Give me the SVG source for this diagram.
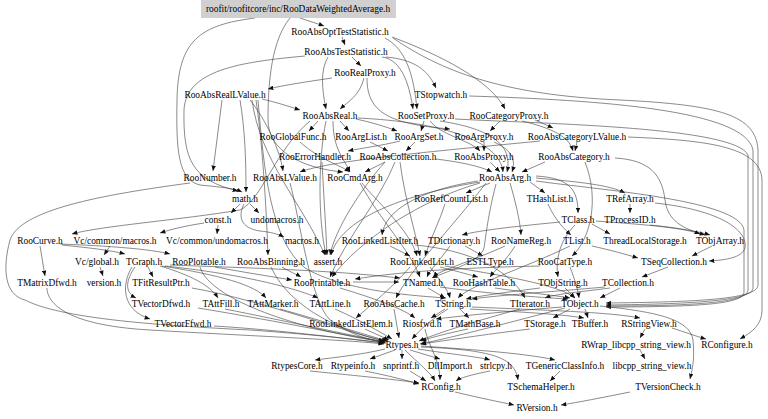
<svg xmlns="http://www.w3.org/2000/svg" width="768" height="419" viewBox="0 0 768 419">
<style>
text{font-family:"Liberation Serif","Times New Roman",serif;font-size:9.4px;fill:#000;text-anchor:middle}
.e{fill:none;stroke:#3c3c3c;stroke-width:0.6;marker-end:url(#ah)}
</style>
<defs>
<marker id="ah" viewBox="0 0 6 5" refX="6" refY="2.5" markerWidth="5.5" markerHeight="4.5" markerUnits="userSpaceOnUse" orient="auto"><path d="M0,0 L6,2.5 L0,5 z" fill="#111"/></marker>
</defs>
<rect width="768" height="419" fill="#fff"/>
<g id="edges">
<path class="e" d="M300,18 C308,21 316,23 324,26"/>
<path class="e" d="M290,18 C272,40 268,80 268,120 C268,150 300,168 343,172"/>
<path class="e" d="M255,18 C200,25 178,40 177,100 C176,150 178,180 200,185 C220,187 233,188 242,192"/>
<path class="e" d="M342,37 L345,45"/>
<path class="e" d="M385,38 C408,50 414,80 417,109"/>
<path class="e" d="M392,37 C440,55 490,80 505,109"/>
<path class="e" d="M393,38 C440,70 500,95 620,100 C720,105 756,115 758,150 L758,285 C758,299 700,302 606,303"/>
<path class="e" d="M352,57 L361,66"/>
<path class="e" d="M382,57 C404,60 410,90 413,109"/>
<path class="e" d="M386,57 C420,60 430,75 436,88"/>
<path class="e" d="M328,57 C320,70 322,90 326,109"/>
<path class="e" d="M305,56 C240,62 186,70 184,110 C183,160 192,180 238,191"/>
<path class="e" d="M332,78 C305,82 285,85 268,89"/>
<path class="e" d="M364,78 C360,95 348,102 340,109"/>
<path class="e" d="M367,78 C367,110 385,124 450,129"/>
<path class="e" d="M262,99 C275,102 288,106 300,110"/>
<path class="e" d="M222,100 L213,171"/>
<path class="e" d="M250,100 C266,120 280,150 283,171"/>
<path class="e" d="M256,100 C262,140 266,200 268,255"/>
<path class="e" d="M240,100 C245,130 246,160 246,192"/>
<path class="e" d="M252,100 C260,160 300,200 325,255"/>
<path class="e" d="M258,100 C264,170 270,240 305,268 C345,292 420,296 446,298"/>
<path class="e" d="M469,96 C600,100 745,110 753,150 L753,288 C753,300 700,304 606,305"/>
<path class="e" d="M318,121 L309,131"/>
<path class="e" d="M340,121 L349,131"/>
<path class="e" d="M356,119 C370,122 384,126 397,131"/>
<path class="e" d="M333,121 C333,150 345,160 350,172"/>
<path class="e" d="M358,118 C440,122 500,140 503,172"/>
<path class="e" d="M310,121 C275,150 262,200 240,210 C180,220 100,226 72,234"/>
<path class="e" d="M326,121 C318,160 318,220 326,255"/>
<path class="e" d="M430,121 C440,135 470,140 480,151"/>
<path class="e" d="M440,121 C500,130 512,150 507,172"/>
<path class="e" d="M424,121 L421,131"/>
<path class="e" d="M455,119 C550,124 735,127 748,155 L748,290 C748,302 700,306 606,306"/>
<path class="e" d="M522,121 C560,130 570,140 573,151"/>
<path class="e" d="M500,121 L490,131"/>
<path class="e" d="M535,120 L553,128"/>
<path class="e" d="M300,142 C320,160 340,165 350,172"/>
<path class="e" d="M370,142 L388,151"/>
<path class="e" d="M415,142 L406,151"/>
<path class="e" d="M400,141 C380,146 362,148 348,151"/>
<path class="e" d="M484,142 L484,151"/>
<path class="e" d="M494,142 C512,150 516,160 512,172"/>
<path class="e" d="M577,142 L575,151"/>
<path class="e" d="M540,141 C450,150 330,160 300,172"/>
<path class="e" d="M628,137 C700,140 761,145 762,180 L762,310 C762,325 752,332 740,339"/>
<path class="e" d="M322,162 C324,200 326,230 327,255"/>
<path class="e" d="M436,159 C460,162 480,166 492,172"/>
<path class="e" d="M395,162 C380,200 345,240 330,277"/>
<path class="e" d="M400,162 C405,200 415,230 420,256"/>
<path class="e" d="M385,162 L365,172"/>
<path class="e" d="M385,162 C360,190 335,230 330,255"/>
<path class="e" d="M490,162 L500,172"/>
<path class="e" d="M545,162 L522,172"/>
<path class="e" d="M585,162 C600,200 590,240 572,256"/>
<path class="e" d="M615,158 C650,160 662,175 665,200 C668,225 690,230 705,235"/>
<path class="e" d="M190,183 C100,195 20,210 10,240 C2,270 5,295 25,300 C60,318 150,325 250,330 C320,335 360,340 384,343"/>
<path class="e" d="M290,183 C300,220 310,300 330,320 C350,335 370,340 386,343"/>
<path class="e" d="M360,183 C380,220 410,250 420,277"/>
<path class="e" d="M362,183 C375,200 410,230 417,256"/>
<path class="e" d="M496,184 C488,215 486,235 484,248 C480,262 450,270 432,278"/>
<path class="e" d="M530,182 L545,193"/>
<path class="e" d="M536,178 C580,182 610,185 625,193"/>
<path class="e" d="M480,183 C420,200 360,240 332,277"/>
<path class="e" d="M490,183 L466,193"/>
<path class="e" d="M486,183 C450,230 410,270 396,298"/>
<path class="e" d="M478,181 C420,190 385,210 382,235"/>
<path class="e" d="M510,183 C515,200 520,220 521,235"/>
<path class="e" d="M536,176 C570,178 578,190 578,213"/>
<path class="e" d="M480,182 C400,195 340,220 331,255"/>
<path class="e" d="M536,181 C600,190 740,200 744,230 L744,292 C744,304 700,307 606,307"/>
<path class="e" d="M445,204 C440,220 430,240 425,256"/>
<path class="e" d="M548,204 C555,220 565,230 571,235"/>
<path class="e" d="M655,203 C720,210 748,230 745,248 C742,258 725,260 709,261"/>
<path class="e" d="M630,204 L630,213"/>
<path class="e" d="M650,225 C680,228 700,232 710,235"/>
<path class="e" d="M560,222 C520,226 480,230 462,235"/>
<path class="e" d="M592,224 L610,234"/>
<path class="e" d="M596,221 C650,225 685,228 700,234"/>
<path class="e" d="M575,225 C560,240 555,260 558,277"/>
<path class="e" d="M240,204 L231,213"/>
<path class="e" d="M250,204 L259,213"/>
<path class="e" d="M244,204 C238,216 240,228 260,231 C270,232 278,234 284,237"/>
<path class="e" d="M204,223 C185,226 172,229 160,233"/>
<path class="e" d="M218,225 L217,234"/>
<path class="e" d="M110,246 L104,255"/>
<path class="e" d="M100,267 L103,276"/>
<path class="e" d="M62,245 C90,248 110,250 125,254"/>
<path class="e" d="M60,244 C110,246 150,249 170,254"/>
<path class="e" d="M40,246 L45,276"/>
<path class="e" d="M135,267 C126,280 124,292 136,298"/>
<path class="e" d="M132,267 C121,285 122,310 150,319"/>
<path class="e" d="M148,267 L153,277"/>
<path class="e" d="M170,265 C250,268 330,270 400,278"/>
<path class="e" d="M165,266 C250,275 300,290 318,298"/>
<path class="e" d="M160,266 C190,275 210,285 218,298"/>
<path class="e" d="M162,266 C220,275 255,285 266,298"/>
<path class="e" d="M200,267 C210,300 300,330 385,342"/>
<path class="e" d="M215,267 C260,275 280,278 292,280"/>
<path class="e" d="M271,267 C290,310 350,335 387,341"/>
<path class="e" d="M282,267 C290,272 296,274 301,277"/>
<path class="e" d="M445,266 C500,275 560,285 575,298"/>
<path class="e" d="M410,267 C390,290 365,310 356,318"/>
<path class="e" d="M440,267 C460,272 470,275 478,277"/>
<path class="e" d="M430,267 C440,280 448,290 450,298"/>
<path class="e" d="M415,245 C470,250 510,270 525,298"/>
<path class="e" d="M390,246 L410,256"/>
<path class="e" d="M450,246 C440,260 430,270 427,277"/>
<path class="e" d="M465,246 L483,256"/>
<path class="e" d="M505,246 C470,262 440,270 433,277"/>
<path class="e" d="M515,246 C505,262 495,270 490,277"/>
<path class="e" d="M592,246 C610,250 625,254 638,258"/>
<path class="e" d="M570,246 C520,270 470,285 458,298"/>
<path class="e" d="M668,267 L642,277"/>
<path class="e" d="M712,246 L692,256"/>
<path class="e" d="M570,267 C575,280 578,290 579,298"/>
<path class="e" d="M540,266 C450,268 400,272 355,279"/>
<path class="e" d="M620,288 L600,298"/>
<path class="e" d="M610,288 C580,292 555,294 545,298"/>
<path class="e" d="M605,287 C550,292 500,295 472,299"/>
<path class="e" d="M47,288 C47,300 60,325 150,330 C250,336 350,340 384,344"/>
<path class="e" d="M192,288 C260,300 340,330 384,341"/>
<path class="e" d="M198,308 C260,318 340,334 384,342"/>
<path class="e" d="M214,326 C280,330 340,338 384,343"/>
<path class="e" d="M340,288 C380,300 405,310 415,318"/>
<path class="e" d="M353,282 L399,282"/>
<path class="e" d="M440,287 C500,295 550,298 568,299"/>
<path class="e" d="M428,288 L445,298"/>
<path class="e" d="M495,288 C530,293 560,296 570,298"/>
<path class="e" d="M565,288 L575,298"/>
<path class="e" d="M540,288 C500,293 480,296 466,299"/>
<path class="e" d="M225,309 C280,320 350,335 385,342"/>
<path class="e" d="M280,309 C320,320 365,335 388,341"/>
<path class="e" d="M335,309 C360,320 380,332 392,339"/>
<path class="e" d="M394,309 L399,338"/>
<path class="e" d="M445,309 L431,318"/>
<path class="e" d="M460,309 L469,318"/>
<path class="e" d="M472,307 C540,310 610,312 640,318"/>
<path class="e" d="M448,309 C430,320 420,330 412,339"/>
<path class="e" d="M470,309 C520,312 560,314 584,318"/>
<path class="e" d="M520,309 C480,320 440,332 419,341"/>
<path class="e" d="M600,306 C660,312 690,320 693,340 C695,360 692,370 690,379"/>
<path class="e" d="M565,308 C500,325 450,338 420,344"/>
<path class="e" d="M570,309 L553,318"/>
<path class="e" d="M562,307 C500,312 460,316 436,319"/>
<path class="e" d="M585,309 L588,318"/>
<path class="e" d="M365,329 L389,340"/>
<path class="e" d="M425,329 C428,345 440,360 440,380"/>
<path class="e" d="M468,329 C440,335 430,338 421,341"/>
<path class="e" d="M530,329 C480,335 450,340 421,344"/>
<path class="e" d="M672,328 C685,332 695,336 706,339"/>
<path class="e" d="M645,329 L640,338"/>
<path class="e" d="M640,350 L645,359"/>
<path class="e" d="M385,349 C360,355 330,358 315,360"/>
<path class="e" d="M395,350 L370,359"/>
<path class="e" d="M402,350 L402,359"/>
<path class="e" d="M410,350 L440,359"/>
<path class="e" d="M418,349 C450,354 480,357 490,360"/>
<path class="e" d="M421,346 C480,350 530,354 555,360"/>
<path class="e" d="M421,347 C500,350 515,360 518,380"/>
<path class="e" d="M405,350 C420,365 430,372 435,381"/>
<path class="e" d="M310,371 C360,376 400,380 419,383"/>
<path class="e" d="M365,371 C390,376 405,380 419,384"/>
<path class="e" d="M410,371 L426,381"/>
<path class="e" d="M490,371 C470,375 460,378 456,381"/>
<path class="e" d="M560,371 L550,381"/>
<path class="e" d="M630,392 C600,398 580,402 561,405"/>
<path class="e" d="M455,392 C480,398 500,402 514,405"/>
</g>
<g id="node-RooDataWeightedAverage"><rect x="201" y="0" width="195" height="18" fill="#d0d0d0"/><text x="298" y="12">roofit/roofitcore/inc/RooDataWeightedAverage.h</text></g>
<g id="node-RooAbsOptTestStatistic"><text x="340" y="35">RooAbsOptTestStatistic.h</text></g>
<g id="node-RooAbsTestStatistic"><text x="346" y="55">RooAbsTestStatistic.h</text></g>
<g id="node-RooRealProxy"><text x="365" y="76">RooRealProxy.h</text></g>
<g id="node-RooAbsRealLValue"><text x="225" y="98">RooAbsRealLValue.h</text></g>
<g id="node-TStopwatch"><text x="441" y="98">TStopwatch.h</text></g>
<g id="node-RooAbsReal"><text x="330" y="119">RooAbsReal.h</text></g>
<g id="node-RooSetProxy"><text x="426" y="119">RooSetProxy.h</text></g>
<g id="node-RooCategoryProxy"><text x="509" y="119">RooCategoryProxy.h</text></g>
<g id="node-RooGlobalFunc"><text x="293" y="140">RooGlobalFunc.h</text></g>
<g id="node-RooArgList"><text x="361" y="140">RooArgList.h</text></g>
<g id="node-RooArgSet"><text x="419" y="140">RooArgSet.h</text></g>
<g id="node-RooArgProxy"><text x="484" y="140">RooArgProxy.h</text></g>
<g id="node-RooAbsCategoryLValue"><text x="577" y="140">RooAbsCategoryLValue.h</text></g>
<g id="node-RooErrorHandler"><text x="315" y="160">RooErrorHandler.h</text></g>
<g id="node-RooAbsCollection"><text x="398" y="160">RooAbsCollection.h</text></g>
<g id="node-RooAbsProxy"><text x="484" y="160">RooAbsProxy.h</text></g>
<g id="node-RooAbsCategory"><text x="574" y="160">RooAbsCategory.h</text></g>
<g id="node-RooNumber"><text x="210" y="181">RooNumber.h</text></g>
<g id="node-RooAbsLValue"><text x="285" y="181">RooAbsLValue.h</text></g>
<g id="node-RooCmdArg"><text x="355" y="181">RooCmdArg.h</text></g>
<g id="node-RooAbsArg"><text x="505" y="181">RooAbsArg.h</text></g>
<g id="node-math"><text x="245" y="202">math.h</text></g>
<g id="node-RooRefCountList"><text x="451" y="202">RooRefCountList.h</text></g>
<g id="node-THashList"><text x="550" y="202">THashList.h</text></g>
<g id="node-TRefArray"><text x="630" y="202">TRefArray.h</text></g>
<g id="node-const"><text x="218" y="223">const.h</text></g>
<g id="node-undomacros"><text x="277" y="223">undomacros.h</text></g>
<g id="node-TClass"><text x="578" y="223">TClass.h</text></g>
<g id="node-TProcessID"><text x="630" y="223">TProcessID.h</text></g>
<g id="node-RooCurve"><text x="40" y="244">RooCurve.h</text></g>
<g id="node-Vc-common-macros"><text x="115" y="244">Vc/common/macros.h</text></g>
<g id="node-Vc-common-undomacros"><text x="217" y="244">Vc/common/undomacros.h</text></g>
<g id="node-macros"><text x="302" y="244">macros.h</text></g>
<g id="node-RooLinkedListIter"><text x="380" y="244">RooLinkedListIter.h</text></g>
<g id="node-TDictionary"><text x="454" y="244">TDictionary.h</text></g>
<g id="node-RooNameReg"><text x="521" y="244">RooNameReg.h</text></g>
<g id="node-TList"><text x="577" y="244">TList.h</text></g>
<g id="node-ThreadLocalStorage"><text x="645" y="244">ThreadLocalStorage.h</text></g>
<g id="node-TObjArray"><text x="720" y="244">TObjArray.h</text></g>
<g id="node-Vc-global"><text x="97" y="265">Vc/global.h</text></g>
<g id="node-TGraph"><text x="144" y="265">TGraph.h</text></g>
<g id="node-RooPlotable"><text x="199" y="265">RooPlotable.h</text></g>
<g id="node-RooAbsBinning"><text x="271" y="265">RooAbsBinning.h</text></g>
<g id="node-assert"><text x="328" y="265">assert.h</text></g>
<g id="node-RooLinkedList"><text x="422" y="265">RooLinkedList.h</text></g>
<g id="node-ESTLType"><text x="490" y="265">ESTLType.h</text></g>
<g id="node-RooCatType"><text x="565" y="265">RooCatType.h</text></g>
<g id="node-TSeqCollection"><text x="674" y="265">TSeqCollection.h</text></g>
<g id="node-TMatrixDfwd"><text x="47" y="286">TMatrixDfwd.h</text></g>
<g id="node-version"><text x="104" y="286">version.h</text></g>
<g id="node-TFitResultPtr"><text x="161" y="286">TFitResultPtr.h</text></g>
<g id="node-RooPrintable"><text x="322" y="286">RooPrintable.h</text></g>
<g id="node-TNamed"><text x="423" y="286">TNamed.h</text></g>
<g id="node-RooHashTable"><text x="484" y="286">RooHashTable.h</text></g>
<g id="node-TObjString"><text x="563" y="286">TObjString.h</text></g>
<g id="node-TCollection"><text x="628" y="286">TCollection.h</text></g>
<g id="node-TVectorDfwd"><text x="161" y="307">TVectorDfwd.h</text></g>
<g id="node-TAttFill"><text x="221" y="307">TAttFill.h</text></g>
<g id="node-TAttMarker"><text x="273" y="307">TAttMarker.h</text></g>
<g id="node-TAttLine"><text x="330" y="307">TAttLine.h</text></g>
<g id="node-RooAbsCache"><text x="394" y="307">RooAbsCache.h</text></g>
<g id="node-TString"><text x="453" y="307">TString.h</text></g>
<g id="node-TIterator"><text x="530" y="307">TIterator.h</text></g>
<g id="node-TObject"><text x="580" y="307">TObject.h</text></g>
<g id="node-TVectorFfwd"><text x="183" y="327">TVectorFfwd.h</text></g>
<g id="node-RooLinkedListElem"><text x="351" y="327">RooLinkedListElem.h</text></g>
<g id="node-Riosfwd"><text x="422" y="327">Riosfwd.h</text></g>
<g id="node-TMathBase"><text x="475" y="327">TMathBase.h</text></g>
<g id="node-TStorage"><text x="545" y="327">TStorage.h</text></g>
<g id="node-TBuffer"><text x="590" y="327">TBuffer.h</text></g>
<g id="node-RStringView"><text x="649" y="327">RStringView.h</text></g>
<g id="node-Rtypes"><text x="402" y="348">Rtypes.h</text></g>
<g id="node-RWrap_libcpp_string_view"><text x="636" y="348">RWrap_libcpp_string_view.h</text></g>
<g id="node-RConfigure"><text x="727" y="348">RConfigure.h</text></g>
<g id="node-RtypesCore"><text x="297" y="369">RtypesCore.h</text></g>
<g id="node-Rtypeinfo"><text x="353" y="369">Rtypeinfo.h</text></g>
<g id="node-snprintf"><text x="401" y="369">snprintf.h</text></g>
<g id="node-DllImport"><text x="450" y="369">DllImport.h</text></g>
<g id="node-strlcpy"><text x="496" y="369">strlcpy.h</text></g>
<g id="node-TGenericClassInfo"><text x="565" y="369">TGenericClassInfo.h</text></g>
<g id="node-libcpp_string_view"><text x="652" y="369">libcpp_string_view.h</text></g>
<g id="node-RConfig"><text x="441" y="390">RConfig.h</text></g>
<g id="node-TSchemaHelper"><text x="541" y="390">TSchemaHelper.h</text></g>
<g id="node-TVersionCheck"><text x="668" y="390">TVersionCheck.h</text></g>
<g id="node-RVersion"><text x="537" y="411">RVersion.h</text></g>
</svg>
